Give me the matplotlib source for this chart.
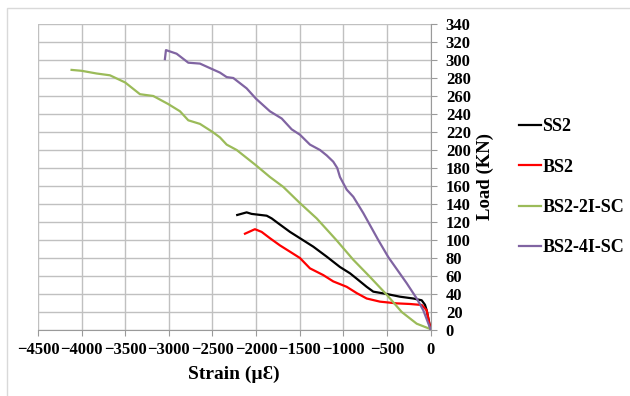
import matplotlib.pyplot as plt
from matplotlib.patches import Rectangle

plt.rcParams['font.family'] = ['Liberation Serif', 'DejaVu Serif']
plt.rcParams['font.weight'] = 'bold'

# SS2
ss2_x = [-2216, -2108, -2051, -1878, -1821, -1745, -1611, -1497, -1344, -1190, -1038, -923,
         -846, -732, -656, -502, -350, -197, -101, -63, -44, 0]
ss2_y = [127.8, 130.7, 129, 127, 124, 118.5, 109, 102, 92.6, 81.5, 70, 63,
         57, 48, 42.6, 40, 37, 35, 33, 28, 22, 1]

# BS2
bs2_x = [-2127, -2013, -1936, -1841, -1726, -1611, -1497, -1382, -1229, -1115, -961, -846,
         -732, -579, -388, -235, -101, -44, 0]
bs2_y = [107, 112, 109, 102, 94, 87, 80, 68.5, 61, 54, 48, 41,
         35, 31.5, 29.6, 28.9, 27.8, 22, 1]

# BS2-2I-SC
bs2i2_x = [-4115, -4000, -3828, -3675, -3500, -3331, -3178, -3006, -2872, -2777, -2643, -2498,
           -2414, -2337, -2222, -2001, -1841, -1688, -1497, -1305, -1080, -885, -694, -500,
           -330, -158, 0]
bs2i2_y = [289, 288, 285, 283, 275, 262, 260, 251, 243, 233, 229, 220,
           214, 206, 200, 183, 170, 159, 141, 124, 100, 78, 59, 39,
           20, 7, 1]

# BS2-4I-SC
bs2i4_x = [-3045, -3033, -2911, -2777, -2643, -2529, -2414, -2337, -2261, -2108, -2001, -1841,
           -1706, -1592, -1497, -1382, -1267, -1190, -1115, -1069, -1038, -961, -885, -771,
           -599, -484, -273, -158, -83, 0]
bs2i4_y = [301, 311, 307, 297, 296, 291, 286, 281, 280, 268.5, 257, 243,
           235, 223, 217, 206, 200, 194, 187, 180, 170, 156, 148, 130,
           100, 81, 52, 35, 22, 1]

x_ticks = list(range(-4500, 1, 500))
y_ticks = list(range(0, 341, 20))

fig = plt.figure(figsize=(6.3, 3.96), dpi=100)
fig.patches.append(Rectangle((7 / 630, -0.01), 1.0, 1 - 8 / 396 + 0.01, transform=fig.transFigure,
                             fill=False, edgecolor='#d9d9d9', linewidth=1.0))
ax = fig.add_axes([38 / 630, 1 - 330 / 396, 392.5 / 630, 306 / 396])

ax.plot(ss2_x, ss2_y, color='black', lw=1.6, label='SS2')
ax.plot(bs2_x, bs2_y, color='#ff0000', lw=1.6, label='BS2')
ax.plot(bs2i2_x, bs2i2_y, color='#9bbb59', lw=1.6, label='BS2-2I-SC')
ax.plot(bs2i4_x, bs2i4_y, color='#8064a2', lw=1.6, label='BS2-4I-SC')

ax.set_xlim(-4500, 0)
ax.set_ylim(0, 340)
ax.set_xticks(x_ticks)
ax.set_yticks(y_ticks)
ax.grid(True, color='#c0c0c0', lw=1.0)
ax.set_axisbelow(True)

for s in ['left', 'top']:
    ax.spines[s].set_visible(False)
for s in ['right', 'bottom']:
    ax.spines[s].set_color('#9a9a9a')

ax.yaxis.tick_right()
ax.yaxis.set_label_position('right')
ax.tick_params(axis='both', colors='#9a9a9a', labelcolor='black', length=4, labelsize=12)
ax.tick_params(axis='y', pad=7)
ax.tick_params(axis='x', pad=5)
for lbl in ax.get_xticklabels() + ax.get_yticklabels():
    lbl.set_fontweight('bold')

ax.set_xlabel('Strain (µƐ)', fontsize=14, fontweight='bold', labelpad=5)
ax.set_ylabel('Load (KN)', fontsize=13.5, fontweight='bold', labelpad=4)

fig.legend(loc='upper left', bbox_to_anchor=(510 / 630, 1 - 109 / 396), frameon=False,
           prop={'size': 13, 'weight': 'bold'}, handlelength=1.2, handletextpad=0.1,
           labelspacing=1.3, borderpad=0)

fig.savefig('out.png', dpi=100)
